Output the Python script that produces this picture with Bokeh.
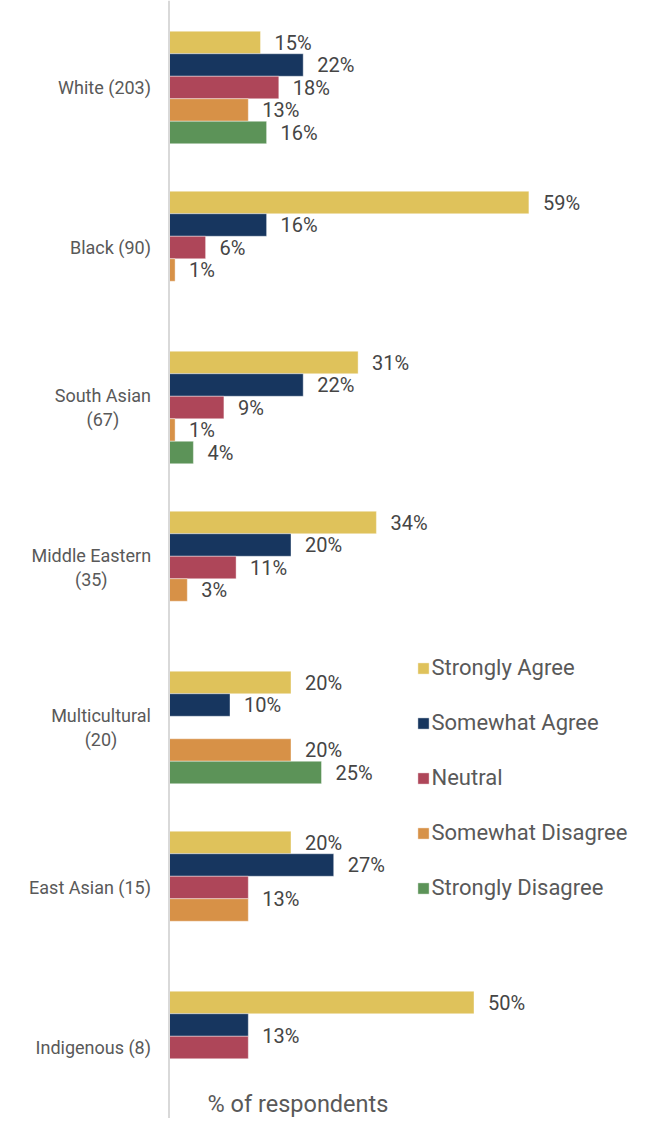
from bokeh.plotting import figure
from bokeh.models import Range1d, Span, Legend, LegendItem, ColumnDataSource
from bokeh.core.properties import value
from bokeh.embed import file_html
from bokeh.resources import INLINE

# ---------------- data ----------------
groups = ["White (203)", "Black (90)", "South Asian\n(67)", "Middle Eastern\n(35)",
          "Multicultural\n(20)", "East Asian (15)", "Indigenous (8)"]
series = ["Strongly Agree", "Somewhat Agree", "Neutral", "Somewhat Disagree", "Strongly Disagree"]
strongly_agree = [15, 59, 31, 34, 20, 20, 50]
somewhat_agree = [22, 16, 22, 20, 10, 27, 13]
neutral = [18, 6, 9, 11, 0, 13, 13]
somewhat_disagree = [13, 1, 1, 3, 20, 13, 0]
strongly_disagree = [16, 0, 4, 0, 25, 0, 0]
x_title = "% of respondents"

values = [strongly_agree, somewhat_agree, neutral, somewhat_disagree, strongly_disagree]
colors = ["#DFC25B", "#17365F", "#AE4659", "#D79147", "#5C9358"]

# ---------------- layout ----------------
W, H = 645, 1118
PX = 6.1            # pixels per percentage point
ZERO_PX = 168.5     # screen x of the value axis
TOP_GROUP_PX = 87   # screen y of first group centre
GROUP_PX = 160      # pixels between group centres
SLOT = 22.5 / GROUP_PX
TEXT = "#595959"
NUM_TEXT = "#454545"
FONT = "Roboto"

x_range = Range1d(-ZERO_PX / PX, (W - ZERO_PX) / PX)
y_range = Range1d((H - TOP_GROUP_PX) / GROUP_PX, -TOP_GROUP_PX / GROUP_PX)

p = figure(width=W, height=H, x_range=x_range, y_range=y_range,
           x_axis_type=None, y_axis_type=None, output_backend="svg",
           toolbar_location=None, min_border=0)
p.outline_line_color = None
p.background_fill_color = "white"
p.border_fill_color = "white"

# value axis line
p.add_layout(Span(location=0, dimension="height", line_color="#D9D9D9", line_width=2))

# bars
renderers = []
for s, (name, vals) in enumerate(zip(series, values)):
    ys = [g + (s - 2) * SLOT for g in range(len(groups))]
    src = ColumnDataSource(dict(y=ys, right=vals))
    r = p.hbar(y="y", left=0, right="right", height=SLOT, source=src,
               fill_color=colors[s], line_color="white", line_width=0.8, line_alpha=0.5)
    renderers.append(r)

# value labels (equal adjacent values share one label between the bars)
lx, ly, lt = [], [], []
for g in range(len(groups)):
    s = 0
    while s < len(series):
        v = values[s][g]
        if v > 0:
            if s + 1 < len(series) and values[s + 1][g] == v:
                lx.append(v); ly.append(g + (s - 1.5) * SLOT); lt.append(f"{v}%")
                s += 2
                continue
            lx.append(v); ly.append(g + (s - 2) * SLOT); lt.append(f"{v}%")
        s += 1
p.text(x=lx, y=ly, text=lt, x_offset=14, text_align="left", text_baseline="middle",
       text_font=value(FONT), text_font_size="20px", text_color=NUM_TEXT)

# category labels
RW = {'S': .593, 'o': .570, 'u': .551, 't': .327, 'h': .552, ' ': .248, 'A': .652, 's': .516,
      'i': .243, 'a': .544, 'n': .552, 'M': .873, 'd': .561, 'l': .242, 'e': .530, 'E': .568,
      'r': .338, 'c': .523}
CAT_SIZE = 18
single = [(g, t) for g, t in enumerate(groups) if "\n" not in t]
multi = [(g, t) for g, t in enumerate(groups) if "\n" in t]
p.text(x=[0] * len(single), y=[g for g, _ in single], text=[t for _, t in single],
       x_offset=-18, text_align="right", text_baseline="middle",
       text_font=value(FONT), text_font_size=f"{CAT_SIZE}px", text_color=TEXT)
for g, t in multi:
    first = t.split("\n")[0]
    w = sum(RW.get(c, 0.55) for c in first) * CAT_SIZE
    p.text(x=[0], y=[g], text=[t], x_offset=-18 - w / 2, text_align="center",
           text_baseline="middle", text_line_height=1.14,
           text_font=value(FONT), text_font_size=f"{CAT_SIZE}px", text_color=TEXT)

# axis title
p.text(x=[0], y=[y_range.start], text=[x_title], x_offset=38.5, y_offset=-1,
       text_align="left", text_baseline="bottom",
       text_font=value(FONT), text_font_size="23.5px", text_color=TEXT)

legend = Legend(items=[LegendItem(label=n, renderers=[r]) for n, r in zip(series, renderers)],
                location=(415.5, 218), padding=0, margin=0, spacing=30,
                glyph_width=14, glyph_height=14, label_standoff=2,
                label_text_font=FONT, label_text_font_size="22px", label_text_color=TEXT,
                border_line_color=None, background_fill_alpha=0)
p.add_layout(legend)

open("out.html", "w").write(file_html(p, INLINE))
